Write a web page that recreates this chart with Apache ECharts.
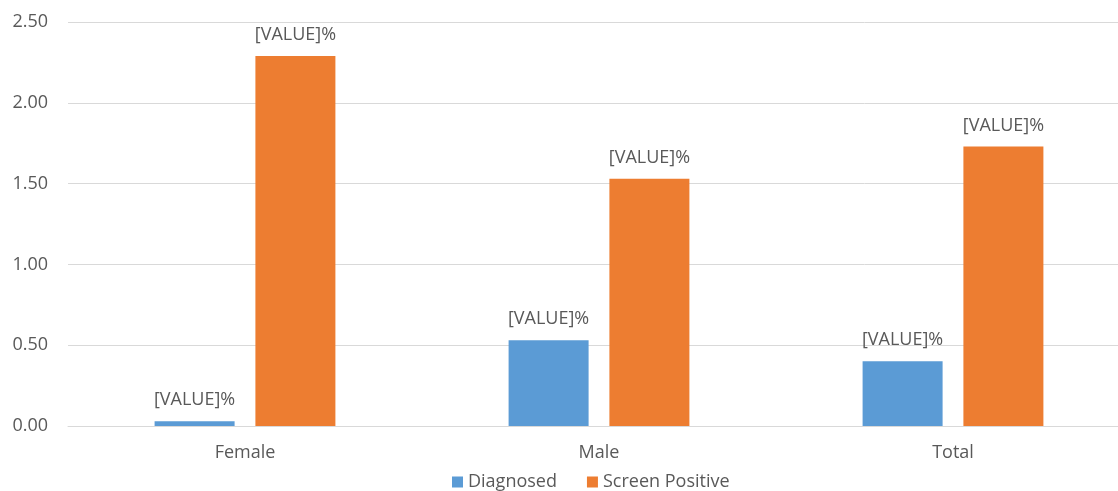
<!DOCTYPE html>
<html><head><meta charset="utf-8">
<script src="https://cdn.jsdelivr.net/npm/echarts@6/dist/echarts.min.js"></script>
<style>html,body{margin:0;padding:0;background:#fff;overflow:hidden;width:1118px;height:491px}#c{width:1130px;height:491px}</style>
</head><body><div id="c"></div>
<script>
const categories = ['Female', 'Male', 'Total'];
const diagnosed = [0.03, 0.53, 0.40];
const screenPositive = [2.29, 1.53, 1.73];
const seriesNames = ['Diagnosed', 'Screen Positive'];
const labelText = '[VALUE]%';

const font = 'Open Sans, sans-serif';
const chart = echarts.init(document.getElementById('c'));
chart.setOption({
  animation: false,
  grid: {left: 68, right: 0, top: 22, bottom: 65, containLabel: false},
  legend: {
    bottom: -5, left: 447, itemWidth: 11, itemHeight: 11, itemGap: 30,
    icon: 'rect',
    textStyle: {fontFamily: font, fontSize: 18, color: '#595959'},
    data: seriesNames
  },
  xAxis: {
    type: 'category', data: categories,
    axisLine: {lineStyle: {color: '#d9d9d9'}},
    axisTick: {show: false},
    axisLabel: {fontFamily: font, fontSize: 18, color: '#595959', margin: 18}
  },
  yAxis: {
    type: 'value', min: 0, max: 2.5, interval: 0.5,
    axisLine: {show: false}, axisTick: {show: false},
    splitLine: {lineStyle: {color: '#d9d9d9'}},
    axisLabel: {fontFamily: font, fontSize: 18, color: '#595959', margin: 20,
      formatter: v => v.toFixed(2)}
  },
  series: [
    {name: seriesNames[0], type: 'bar', data: diagnosed, barWidth: 80, barGap: '26%',
     itemStyle: {color: '#5b9bd5'},
     label: {show: true, position: 'top', distance: 12, formatter: labelText,
       fontFamily: font, fontSize: 18, color: '#595959'}},
    {name: seriesNames[1], type: 'bar', data: screenPositive, barWidth: 80,
     itemStyle: {color: '#ed7d31'},
     label: {show: true, position: 'top', distance: 12, formatter: labelText,
       fontFamily: font, fontSize: 18, color: '#595959'}}
  ]
});
</script></body></html>
